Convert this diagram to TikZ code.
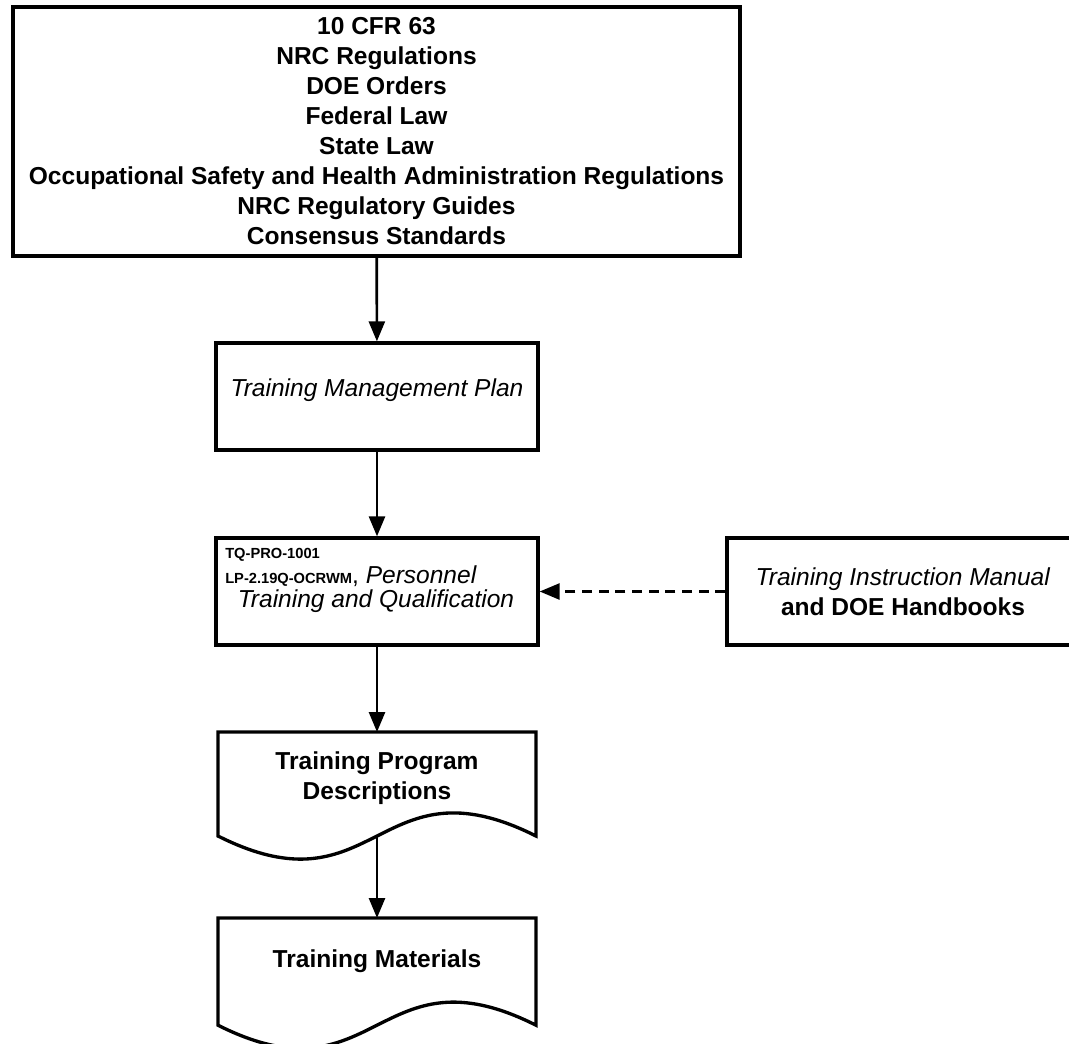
\documentclass[tikz,border=0pt]{standalone}
\usepackage{fontspec}
\setmainfont{Liberation Sans}
\usetikzlibrary{arrows.meta}

\newcommand{\boxfont}{\fontsize{18.4pt}{22.5pt}\selectfont}
\newcommand{\tqfont}{\fontsize{11pt}{13pt}\selectfont\bfseries}

\tikzset{
  box/.style={draw, line width=2.5pt, inner sep=0pt, align=center, font=\boxfont},
  doc/.style={line width=2.5pt, inner sep=0pt, outer sep=0pt, align=center, font=\boxfont\bfseries},
  wave/.style={line width=2.5pt, line join=miter},
  flow/.style={line width=2pt, -{Triangle[length=15pt,width=12pt]}},
  tqline/.style={inner sep=0pt}
}

\begin{document}
\begin{tikzpicture}[x=0.75pt, y=-0.75pt]
  \useasboundingbox (0,0) rectangle (1069,1043);
  \node[box, font=\boxfont\bfseries, minimum width=545.25pt, minimum height=186.75pt] (regs) at (376.5,131.5)
    {10 CFR 63\\NRC Regulations\\DOE Orders\\Federal Law\\State Law\\
     Occupational Safety and Health Administration Regulations\\
     NRC Regulatory Guides\\Consensus Standards};
  \node[box, minimum width=241.5pt, minimum height=80.25pt, text height=13pt, text depth=13pt] (tmp) at (377,396.5)
    {\textit{Training Management Plan}};
  \node[box, minimum width=241.5pt, minimum height=80.25pt] (tq) at (377,591.5) {};
  \node[tqline, anchor=base west, font=\tqfont] (tqno) at (225,558) {TQ-PRO-1001};
  \node[tqline, anchor=base west, font=\boxfont] (tqlp) at (225,583) {{\tqfont LP-2.19Q-OCRWM}, \textit{Personnel}};
  \node[tqline, anchor=base, font=\boxfont\itshape] (tqtitle) at (376,607) {Training and Qualification};
  \node[box, minimum width=264pt, minimum height=80.25pt] (manual) at (903,591.5)
    {\textit{Training Instruction Manual}\\\textbf{and DOE Handbooks}};

  % document shapes with a wavy bottom edge
  \node[doc, minimum width=238.5pt, minimum height=69pt] (tpd) at (377,778) {Training Program\\Descriptions};
  \draw[wave] (tpd.north west) -- (tpd.north east) -- ([yshift=-9pt]tpd.south east)
    .. controls +(-159,-80) and +(159,80) .. coordinate[pos=0.5] (tpdwave) ++(-318,0) -- cycle;
  \node[doc, minimum width=238.5pt, minimum height=65.4pt] (tm) at (377,961.6) {Training Materials};
  \draw[wave] (tm.north west) -- (tm.north east) -- ([yshift=-15pt]tm.south east)
    .. controls +(-159,-80) and +(159,80) .. ++(-318,0) -- cycle;

  \draw[flow] (regs) -- (tmp);
  \draw[flow] (tmp) -- (tq);
  \draw[flow] (tq) -- (tpd);
  \draw[flow] (tpdwave) -- (tpdwave |- tm.north);
  \draw[flow, dashed, dash pattern=on 7.5pt off 5pt] (manual) -- (tq);
\end{tikzpicture}
\end{document}
